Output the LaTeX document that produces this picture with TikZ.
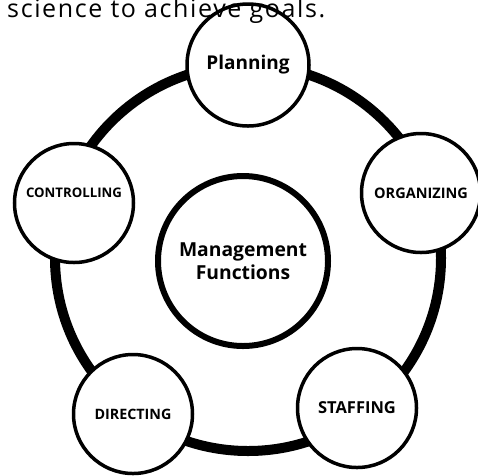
\documentclass[tikz,border=0pt]{standalone}
\usepackage{fontspec}
\setmainfont{Open Sans}
\newfontfamily\captionfont[LetterSpace=6.5]{Open Sans}
\begin{document}
\begin{tikzpicture}[x=1pt,y=-1pt,
    func/.style={circle,draw,line width=3.5pt,fill=white,inner sep=0pt,minimum size=119pt,font=\bfseries\fontsize{14.5}{16}\selectfont},
    core/.style={circle,draw,line width=6pt,fill=white,inner sep=0pt,minimum size=170pt,align=center,font=\bfseries\fontsize{19.3}{23}\selectfont}]
	\useasboundingbox (0,0) rectangle (478,475);
	% ring behind everything
	\coordinate (hub) at (248,258);
	\draw[line width=10pt] (hub) circle (193pt);
	% the five functions
	\node[func,minimum size=122pt,font=\bfseries\fontsize{19}{21}\selectfont] (planning) at (248,65) {Planning};
	\node[func] (organizing) at (421,193) {ORGANIZING};
	\node[func,font=\bfseries\fontsize{16.5}{18}\selectfont] (staffing) at (357,408) {STAFFING};
	\node[func,font=\bfseries\fontsize{14.3}{16}\selectfont] (directing) at (133,414) {DIRECTING};
	\node[func] (controlling) at (74,203) {};
	\node[font=\bfseries\fontsize{13.2}{15}\selectfont] (controltext) at ([yshift=10pt]controlling.center) {CONTROLLING};
	% centre
	\node[core] (mgmt) at (243,261) {Management\\Functions};
	% caption cut off at the top
	\node[anchor=base west,inner sep=0pt,font=\captionfont\fontsize{25}{30}\selectfont] (caption) at (7,17) {science to achieve goals.};
\end{tikzpicture}
\end{document}
